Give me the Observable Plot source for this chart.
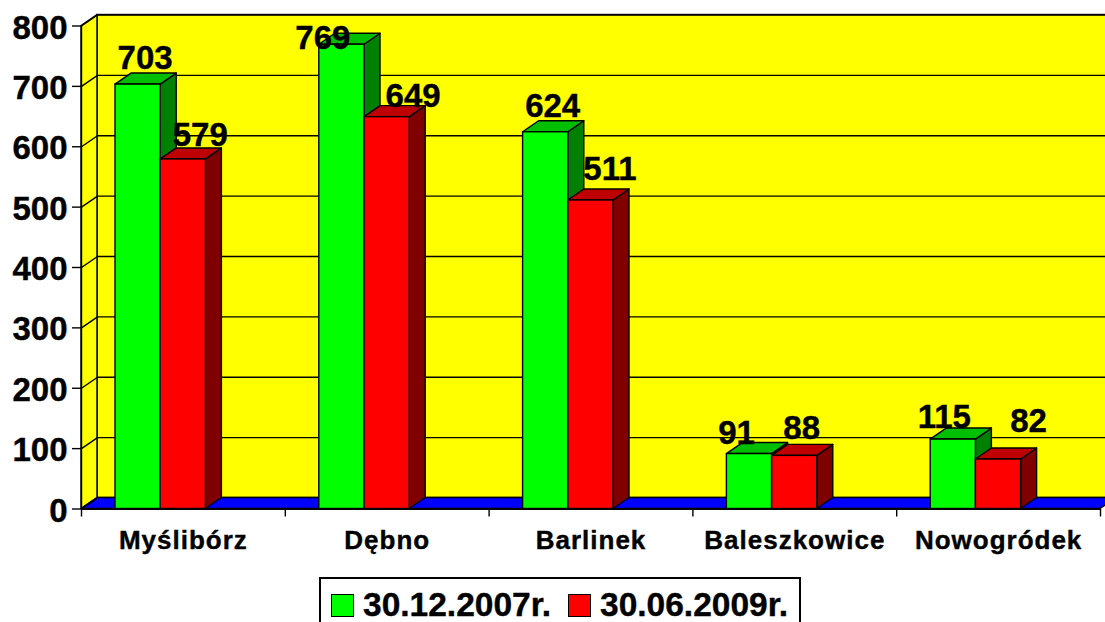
<!DOCTYPE html>
<html><head><meta charset="utf-8">
<script src="https://cdn.jsdelivr.net/npm/d3@7"></script>
<script src="https://cdn.jsdelivr.net/npm/@observablehq/plot@0.6"></script>
<style>
html,body{margin:0;padding:0;background:#fff;overflow:hidden}
body{width:1105px;height:622px;position:relative;font-family:"Liberation Sans",Arial,sans-serif}
svg{display:block}
svg text{stroke:#000;stroke-width:.4px}
[aria-label="x-axis tick label"] text{letter-spacing:1px}
#legend{position:absolute;left:319px;top:577px;width:482px;height:45px;border:2px solid #000;border-bottom:none;box-sizing:border-box;background:#fff;
 font-weight:bold;font-size:33.5px;color:#000;-webkit-text-stroke:.4px #000}
#legend span.s{position:absolute;top:15px;width:23px;height:23px;border:1.5px solid #000;box-sizing:border-box}
#legend span.t{position:absolute;top:11px;height:30px;line-height:30px;white-space:nowrap}
</style></head><body>
<div id="chart"></div>
<div id="legend"></div>
<script>
const categories = ["Myślibórz","Dębno","Barlinek","Baleszkowice","Nowogródek"];
const seriesNames = ["30.12.2007r.","30.06.2009r."];
const values2007 = [703,769,624,91,115];
const values2009 = [579,649,511,88,82];
const yTicks = [0,100,200,300,400,500,600,700,800];

// layout constants (3D look of the chart)
const W = 1105, H = 577, left = 81, right = 1100, top0 = 25.5, base = 508.5;
const bandPx = (right-left)/5, unitPx = (base-top0)/800;
const dX = 16/bandPx, dY = 11/unitPx;           // depth in data units
const barStart = 34/bandPx, barW = 45.2/bandPx;
const colors = {
  g:{front:"#00ff00",top:"#00bf00",side:"#008000"},
  r:{front:"#ff0000",top:"#bf0000",side:"#800000"}
};
// manual nudges of the value labels, in pixels, as in the original
const labelNudge2007 = [[-1,-5],[-27,15],[-1,-4],[-21,1],[-17,-1]];
const labelNudge2009 = [[9,-2],[18,1],[11,-9],[-1,-6],[22,-16]];

// parallelogram as an area between two edges
const para = (list, fill) => Plot.area(list.flatMap((p,i)=>[
    {i,x1:p[0],y1:p[1],x2:p[0]+p[4],y2:p[1]+p[5]},
    {i,x1:p[2],y1:p[3],x2:p[2]+p[4],y2:p[3]+p[5]}
  ]),{x1:"x1",y1:"y1",x2:"x2",y2:"y2",z:"i",fill,stroke:"#000",strokeWidth:1.4});

const bars = [];
categories.forEach((c,i)=>{
  [[values2007[i],"g",0],[values2009[i],"r",1]].forEach(([v,s,k])=>{
    bars.push({i,v,s,x1:i+barStart+k*barW,x2:i+barStart+(k+1)*barW});
  });
});
const labels = bars.map((b,n)=>{
  const nudge = (b.s==="g"?labelNudge2007:labelNudge2009)[b.i];
  return {...b,xc:(b.x1+b.x2)/2+dX/2,ny:nudge[1],nx:nudge[0]};
});

const marks = [
  // back wall, side wall, floor
  Plot.rect([0],{x1:dX,x2:5+dX,y1:dY,y2:800+dY,fill:"#ffff00",stroke:"#000",strokeWidth:1.4}),
  para([[0,0,0,800,dX,dY]],"#ffff00"),
  para([[0,0,5,0,dX,dY]],"#0000ff"),
  // grid lines
  Plot.ruleY(yTicks.filter(t=>t>0),{x1:dX,x2:5+dX,y:t=>t+dY,stroke:"#000",strokeWidth:1.4}),
  Plot.link(yTicks,{x1:0,x2:dX,y1:t=>t,y2:t=>t+dY,stroke:"#000",strokeWidth:1.4}),
];
// bars, green then red within each group
bars.forEach(b=>{
  const c = colors[b.s];
  marks.push(para([[b.x2,0,b.x2,b.v,dX,dY]],c.side));
  marks.push(para([[b.x1,b.v,b.x2,b.v,dX,dY]],c.top));
  marks.push(Plot.rect([b],{x1:"x1",x2:"x2",y1:0,y2:"v",fill:c.front,stroke:"#000",strokeWidth:1.4}));
});
marks.push(
  Plot.ruleX([0],{y1:0,y2:800,stroke:"#000",strokeWidth:1.4}),
  Plot.ruleY([0],{x1:0,x2:5,stroke:"#000",strokeWidth:2}),
  Plot.axisY({ticks:yTicks,tickSize:9,tickPadding:5,tickFormat:d=>String(d),fontSize:33,fontWeight:"bold",stroke:"#000",strokeWidth:1.4,label:null,marginLeft:81,textStroke:"none"}),
  Plot.axisX({ticks:[0,1,2,3,4,5],tickSize:8,tickFormat:()=>"",stroke:"#000",strokeWidth:1.4,label:null}),
  Plot.axisX({ticks:categories.map((c,i)=>i+.5),tickSize:0,tickPadding:22,tickFormat:t=>categories[t-.5],fontSize:26,fontWeight:"bold",label:null}),
  ...labels.map(l=>Plot.text([l],{x:"xc",y:d=>d.v+dY,text:d=>String(d.v),dx:l.nx,dy:l.ny,lineAnchor:"bottom",fontSize:33,fontWeight:"bold",fill:"#000"}))
);

const chart = Plot.plot({
  width:W,height:H,
  marginLeft:left,marginRight:W-right,marginTop:top0,marginBottom:H-base,
  style:{fontFamily:'"Liberation Sans",Arial,sans-serif',background:"#fff",color:"#000",overflow:"hidden"},
  x:{type:"linear",domain:[0,5],axis:null},
  y:{type:"linear",domain:[0,800],axis:null},
  marks
});
document.getElementById("chart").append(chart);
// y tick labels sit slightly below their ticks in the original
chart.querySelectorAll('[aria-label="y-axis tick label"] text').forEach(t=>t.setAttribute("dy","2"));

// legend
const legend = document.getElementById("legend");
[["#00ff00",seriesNames[0],10,42],["#ff0000",seriesNames[1],247,279]].forEach(([col,name,xs,xt])=>{
  const s=document.createElement("span");s.className="s";s.style.left=xs+"px";s.style.background=col;legend.append(s);
  const t=document.createElement("span");t.className="t";t.style.left=xt+"px";t.textContent=name;legend.append(t);
});
</script>
</body></html>
